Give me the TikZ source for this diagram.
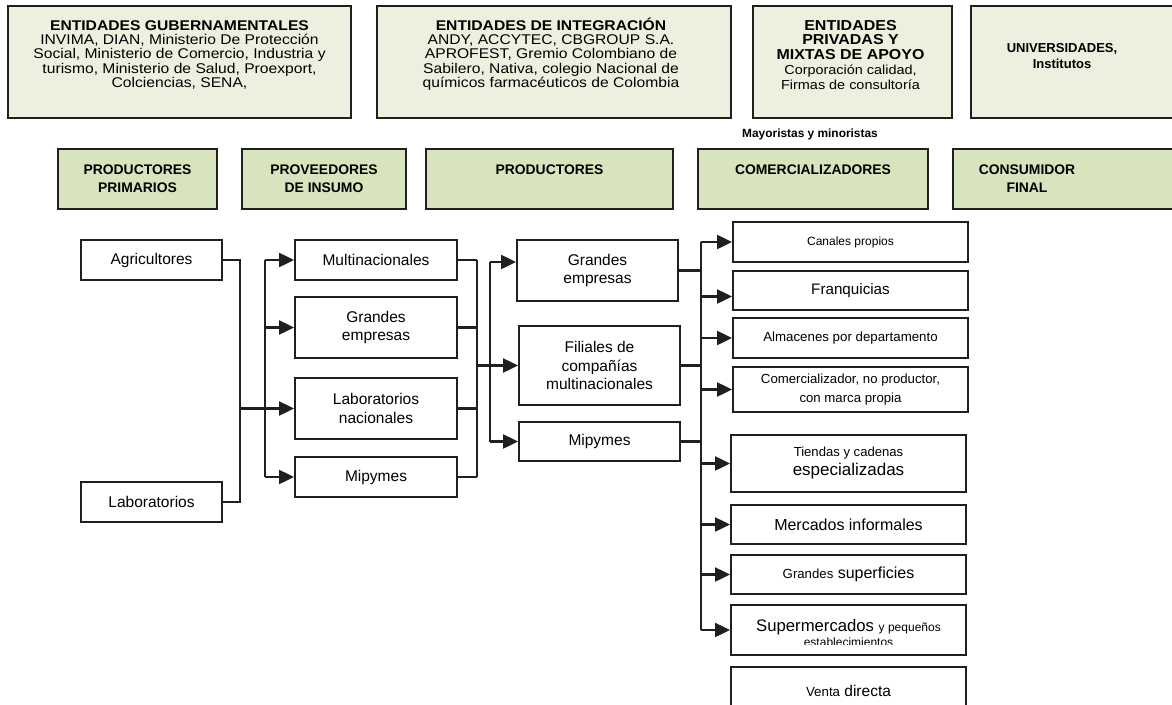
\documentclass[tikz,border=0pt]{standalone}
\usepackage{fontspec}
\setmainfont{Liberation Sans}
\newfontfamily\topfont[FakeStretch=1.11]{Liberation Sans}
\usetikzlibrary{arrows.meta}
\definecolor{topfill}{HTML}{EBF1DE}
\definecolor{hdrfill}{HTML}{D7E4BD}
\definecolor{edge}{HTML}{1F1F1F}
\newcommand\fs[2]{\fontsize{#1}{#2}\selectfont\lineskiplimit=-30pt\relax}
\newcommand\tstrut{\rule{0pt}{15pt}}
\begin{document}
\begin{tikzpicture}[x=1pt,y=-1pt,
  topbox/.style={draw=edge,line width=2pt,fill=topfill,inner sep=0pt},
  hdrbox/.style={draw=edge,line width=2pt,fill=hdrfill,inner sep=0pt,align=center,font=\fs{13.9}{18}\bfseries},
  lbox/.style={draw=edge,line width=1.9pt,fill=white,inner sep=0pt,align=center,font=\fs{15.5}{18.5}},
  ttext/.style={inner sep=0pt,align=center,anchor=north},
  conn/.style={draw=edge,line width=2.2pt},
  arr/.style={conn,-{Triangle[length=15pt,width=14pt]}},
]
\useasboundingbox (0,0) rectangle (1172,704);
\fill[white] (0,0) rectangle (1172,704);

% ---- top row
\node[topbox,minimum width=343pt,minimum height=112pt] (gob) at (179.5,62) {};
\node[ttext,font=\topfont\fs{14.1}{14.3}] (gobt) at ([yshift=-10pt]gob.north)
  {\tstrut\textbf{ENTIDADES GUBERNAMENTALES}\\INVIMA, DIAN, Ministerio De Protección\\Social, Ministerio de Comercio, Industria y\\turismo, Ministerio de Salud, Proexport,\\Colciencias, SENA,};

\node[topbox,minimum width=354pt,minimum height=112pt] (integ) at (554,62) {};
\node[ttext,font=\topfont\fs{14.1}{14.3}] (integt) at ([xshift=-3pt,yshift=-10pt]integ.north)
  {\tstrut\textbf{ENTIDADES DE INTEGRACIÓN}\\ANDY, ACCYTEC, CBGROUP S.A.\\APROFEST, Gremio Colombiano de\\Sabilero, Nativa, colegio Nacional de\\químicos farmacéuticos de Colombia};

\node[topbox,minimum width=199pt,minimum height=112pt] (priv) at (852.5,62) {};
\node[ttext,font=\topfont\fs{13}{14.7}] (privt) at ([xshift=-2pt,yshift=-10pt]priv.north)
  {\tstrut{\fontsize{14.4}{14.7}\selectfont\bfseries ENTIDADES}\\{\fontsize{14.4}{14.7}\selectfont\bfseries PRIVADAS Y}\\{\fontsize{14.4}{14.7}\selectfont\bfseries MIXTAS DE APOYO}\\Corporación calidad,\\Firmas de consultoría};

\node[topbox,minimum width=220pt,minimum height=112pt] (univ) at (1081,62) {};
\node[ttext,font=\fs{13}{16.5}\bfseries] (univt) at (1062,37)
  {\tstrut UNIVERSIDADES,\\Institutos};

\node[inner sep=0pt,font=\fs{11.9}{14}\bfseries] (may) at (810,134) {Mayoristas y minoristas};

% ---- header row
\node[hdrbox,minimum width=159pt,minimum height=60pt] (pp) at (137.5,179) {PRODUCTORES\\PRIMARIOS};
\node[hdrbox,minimum width=164pt,minimum height=60pt] (pi) at (324,179) {PROVEEDORES\\DE INSUMO};
\node[hdrbox,minimum width=247pt,minimum height=60pt] (prod) at (549.5,179) {PRODUCTORES\\\mbox{}};
\node[hdrbox,minimum width=230pt,minimum height=60pt] (com) at (813,179) {COMERCIALIZADORES\\\mbox{}};
\node[hdrbox,minimum width=235pt,minimum height=60pt] (cf) at (1070.5,179) {};
\node[inner sep=0pt,align=center,font=\fs{13.9}{18}\bfseries] (cft) at (1027,179) {CONSUMIDOR\\FINAL};

% ---- productores primarios
\node[lbox,minimum width=141pt,minimum height=40pt] (agr) at (151.5,260) {Agricultores};
\node[lbox,minimum width=141pt,minimum height=40pt] (lab) at (151.5,502) {Laboratorios};

% ---- proveedores
\node[lbox,minimum width=162pt,minimum height=40pt] (mul) at (376,260) {Multinacionales};
\node[lbox,minimum width=162pt,minimum height=61pt] (gemA) at (376,327.5) {Grandes\\empresas};
\node[lbox,minimum width=162pt,minimum height=61pt] (labn) at (376,408.5) {Laboratorios\\nacionales};
\node[lbox,minimum width=162pt,minimum height=40pt] (mipA) at (376,477) {Mipymes};

% ---- productores
\node[lbox,minimum width=161pt,minimum height=61pt] (gemB) at (597.5,270.5) {Grandes\\empresas};
\node[lbox,minimum width=161pt,minimum height=79pt] (fil) at (599.5,365.5) {Filiales de\\compañías\\multinacionales};
\node[lbox,minimum width=161pt,minimum height=39pt] (mipB) at (599.5,441.5) {Mipymes};

% ---- comercializadores
\node[lbox,minimum width=235pt,minimum height=40pt,font=\fs{12}{14}] (can) at (850.5,242) {Canales propios};
\node[lbox,minimum width=235pt,minimum height=39pt,font=\fs{15.2}{18}] (fra) at (850.5,290.5) {Franquicias};
\node[lbox,minimum width=235pt,minimum height=40pt,font=\fs{13.3}{16}] (alm) at (850.5,338) {Almacenes por departamento};
\node[lbox,minimum width=235pt,minimum height=45pt,font=\fs{13.2}{18.5}] (cme) at (850.5,389.5) {\raisebox{-3pt}{Comercializador, no productor,}\\\raisebox{-3pt}{con marca propia}};
\node[lbox,minimum width=235pt,minimum height=57pt,font=\fs{17}{19}] (tie) at (848.5,463.5) {{\fontsize{13.1}{19}\selectfont Tiendas y cadenas}\\especializadas};
\node[lbox,minimum width=235pt,minimum height=39pt,font=\fs{16}{18}] (mer) at (848.5,524.5) {Mercados informales};
\node[lbox,minimum width=235pt,minimum height=39pt,font=\fs{16}{18}] (gsu) at (848.5,574.5) {{\fontsize{13.2}{18}\selectfont Grandes} superficies};
\node[lbox,minimum width=235pt,minimum height=50pt] (sup) at (848.5,630) {};
\begin{scope}
  \clip ([xshift=1pt,yshift=-1pt]sup.north west) rectangle ([xshift=-1pt,yshift=11pt]sup.south east);
  \node[inner sep=0pt,align=center,anchor=north,font=\fs{16.7}{15}] (supt) at (848.5,616)
    {\tstrut Supermercados {\fontsize{12}{15}\selectfont y pequeños}\\{\fontsize{12}{15}\selectfont establecimientos}};
\end{scope}
\node[lbox,minimum width=235pt,minimum height=48pt,font=\fs{15.5}{18}] (ven) at (848.5,691) {{\fontsize{13.3}{18}\selectfont Venta} directa};

% ---- connectors
\coordinate (xa) at (240,0);
\coordinate (xb) at (265,0);
\coordinate (xc) at (477,0);
\coordinate (xd) at (490,0);
\coordinate (xe) at (701,0);

\coordinate (j1) at (xa |- labn.west);
\draw[conn] (agr.east) -| (j1) |- (lab.east);
\draw[conn] (xb |- mul.west) -- (xb |- mipA.west);
\foreach \nm in {mul,gemA,mipA} \draw[arr] (xb |- \nm.west) -- (\nm.west);
\draw[arr] (j1) -- (labn.west);

\foreach \nm in {mul,gemA,labn,mipA} \draw[conn] (\nm.east) -- (xc |- \nm.east);
\draw[conn] (xc |- mul.east) -- (xc |- mipA.east);
\draw[arr] (xc |- fil.west) -- (fil.west);

\coordinate (gBin) at ([yshift=8.5pt]gemB.west);
\draw[conn] (xd |- gBin) -- (xd |- mipB.west);
\draw[arr] (xd |- gBin) -- (gBin);
\draw[arr] (xd |- mipB.west) -- (mipB.west);

\foreach \nm in {gemB,fil,mipB} \draw[conn] (\nm.east) -- (xe |- \nm.east);
\draw[conn] (xe |- can.west) -- (xe |- sup.west);
\foreach \nm in {can,alm,cme,tie,mer,gsu,sup} \draw[arr] (xe |- \nm.west) -- (\nm.west);
\coordinate (frain) at ([yshift=-6pt]fra.west);
\draw[arr] (xe |- frain) -- (frain);
\end{tikzpicture}
\end{document}
